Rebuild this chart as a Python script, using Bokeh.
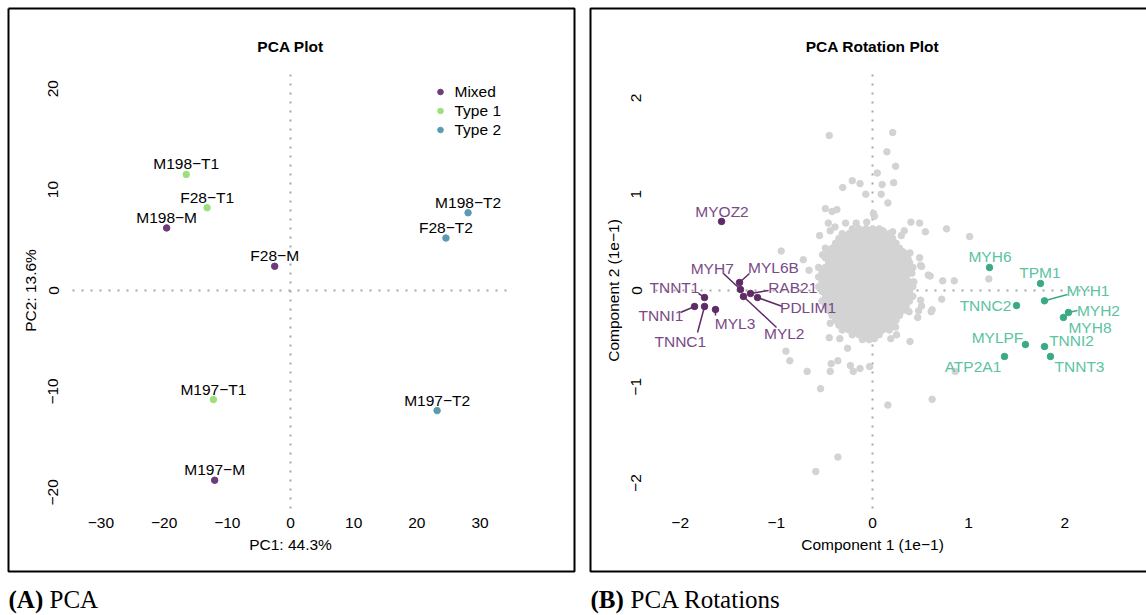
from bokeh.plotting import figure
from bokeh.models import Range1d, LinearAxis, FixedTicker, Label, Legend, LegendItem
from bokeh.layouts import row
from bokeh.embed import file_html
from bokeh.resources import INLINE
from bokeh.core.properties import value

SANS = "Liberation Sans"
SERIF = "Liberation Serif"
FS = "15.5px"

# ---------------- Panel A : PCA ----------------
pca_samples = ["M198\u2212T1", "F28\u2212T1", "M198\u2212M", "F28\u2212M", "M198\u2212T2",
               "F28\u2212T2", "M197\u2212T1", "M197\u2212T2", "M197\u2212M"]
pca_group = ["Type 1", "Type 1", "Mixed", "Mixed", "Type 2", "Type 2", "Type 1", "Type 2", "Mixed"]
pca_pc1 = [-16.5, -13.2, -19.6, -2.5, 28.1, 24.6, -12.2, 23.2, -12.0]
pca_pc2 = [11.5, 8.2, 6.2, 2.4, 7.7, 5.2, -10.8, -11.9, -18.8]
group_names = ["Mixed", "Type 1", "Type 2"]
group_colors = ["#6D3B79", "#9BE07A", "#5B9BB0"]
pca_xticks = [-30, -20, -10, 0, 10, 20, 30]
pca_yticks = [-20, -10, 0, 10, 20]
pca_xlim = (-34.5, 34.5)
pca_ylim = (-21.6, 21.6)

# ---------------- Panel B : PCA rotations ----------------
# scattered genes
gray_out_x = [
    -0.45, 0.21, 0.15, 0.24, 0.05, -0.21, -0.13, 0.10, 0.22, -0.31,
    -0.07, 0.09, 0.16, -0.49, -0.37, -0.42, 0.01, 0.02, 0.40, 0.49,
    0.77, 1.01, 0.55, 0.33, 0.30, 0.21, 0.11, -0.06, -0.17, -0.28,
    -0.46, -0.44, -0.55, -0.39, -0.95, -0.72, -0.52, -0.42, -0.66, 0.32,
    0.39, 0.49, 0.51, 0.60, 0.73, 0.85, 1.21, 0.37, 0.41, 0.43,
    0.58, 0.50, 0.72, 0.62, 0.50, 0.48,
    0.86, 0.62, 0.16, -0.36, -0.59, -0.54, -0.68, -0.86, -0.90, -0.44,
    -0.43, -0.36, -0.23, -0.20, -0.13, -0.03, -0.26, -0.45, -0.34, 0.02,
    0.19, 0.25, 0.39, 0.47, 0.38, 0.61, 0.51, 0.24, 0.06, -0.44,
    -0.30, -0.16,
]
gray_out_y = [
    1.61, 1.64, 1.44, 1.29, 1.22, 1.14, 1.11, 1.10, 1.12, 1.07,
    1.00, 1.00, 0.91, 0.85, 0.84, 0.82, 0.80, 0.77, 0.71, 0.70,
    0.64, 0.56, 0.61, 0.62, 0.57, 0.61, 0.62, 0.71, 0.70, 0.70,
    0.70, 0.62, 0.57, 0.66, 0.41, 0.32, 0.37, 0.37, 0.21, 0.40,
    0.39, 0.34, 0.25, 0.15, 0.10, 0.10, 0.12, 0.33, 0.18, 0.09,
    0.16, 0.26, -0.09, -0.20, -0.10, -0.21,
    -0.84, -1.13, -1.19, -1.73, -1.88, -1.02, -0.84, -0.73, -0.63, -0.84,
    -0.76, -0.73, -0.78, -0.84, -0.81, -0.79, -0.60, -0.49, -0.50, -0.50,
    -0.50, -0.46, -0.53, -0.28, -0.22, -0.22, -0.16, -0.38, -0.38, -0.34,
    -0.39, -0.42,
]
# dense core of genes near the origin
gray_core_x = [
    -0.21, -0.14, -0.07, 0.00, 0.07,
    -0.315, -0.245, -0.175, -0.105, -0.035, 0.035, 0.105, 0.175,
    -0.35, -0.28, -0.21, -0.14, -0.07, 0.00, 0.07, 0.14, 0.21,
    -0.385, -0.315, -0.245, -0.175, -0.105, -0.035, 0.035, 0.105, 0.175, 0.245,
    -0.49, -0.42, -0.35, -0.28, -0.21, -0.14, -0.07, 0.00, 0.07, 0.14, 0.21, 0.28,
    -0.455, -0.385, -0.315, -0.245, -0.175, -0.105, -0.035, 0.035, 0.105, 0.175, 0.245, 0.315,
    -0.49, -0.42, -0.35, -0.28, -0.21, -0.14, -0.07, 0.00, 0.07, 0.14, 0.21, 0.28, 0.35,
    -0.455, -0.385, -0.315, -0.245, -0.175, -0.105, -0.035, 0.035, 0.105, 0.175, 0.245, 0.315, 0.385,
    -0.56, -0.49, -0.42, -0.35, -0.28, -0.21, -0.14, -0.07, 0.00, 0.07, 0.14, 0.21, 0.28, 0.35, 0.42,
    -0.525, -0.455, -0.385, -0.315, -0.245, -0.175, -0.105, -0.035, 0.035, 0.105, 0.175, 0.245, 0.315, 0.385,
    -0.56, -0.49, -0.42, -0.35, -0.28, -0.21, -0.14, -0.07, 0.00, 0.07, 0.14, 0.21, 0.28, 0.35,
    -0.525, -0.455, -0.385, -0.315, -0.245, -0.175, -0.105, -0.035, 0.035, 0.105, 0.175, 0.245, 0.315, 0.385,
    -0.56, -0.49, -0.42, -0.35, -0.28, -0.21, -0.14, -0.07, 0.00, 0.07, 0.14, 0.21, 0.28, 0.35, 0.42,
    -0.525, -0.455, -0.385, -0.315, -0.245, -0.175, -0.105, -0.035, 0.035, 0.105, 0.175, 0.245, 0.315, 0.385,
    -0.49, -0.42, -0.35, -0.28, -0.21, -0.14, -0.07, 0.00, 0.07, 0.14, 0.21, 0.28, 0.35, 0.42,
    -0.525, -0.455, -0.385, -0.315, -0.245, -0.175, -0.105, -0.035, 0.035, 0.105, 0.175, 0.245, 0.315, 0.385,
    -0.49, -0.42, -0.35, -0.28, -0.21, -0.14, -0.07, 0.00, 0.07, 0.14, 0.21, 0.28, 0.35,
    -0.455, -0.385, -0.315, -0.245, -0.175, -0.105, -0.035, 0.035, 0.105, 0.175, 0.245, 0.315,
    -0.42, -0.35, -0.28, -0.21, -0.14, -0.07, 0.00, 0.07, 0.14, 0.21, 0.28,
    -0.385, -0.315, -0.245, -0.175, -0.105, -0.035, 0.035, 0.105, 0.175, 0.245,
    -0.35, -0.28, -0.21, -0.14, -0.07, 0.00, 0.07, 0.14, 0.21,
    -0.315, -0.245, -0.175, -0.105, -0.035, 0.035, 0.105, 0.175,
    -0.21, -0.14, -0.07, 0.00, 0.07,
    -0.105, -0.035,
]
gray_core_y = [
    0.64, 0.64, 0.64, 0.64, 0.64,
    0.59, 0.59, 0.59, 0.59, 0.59, 0.59, 0.59, 0.59,
    0.54, 0.54, 0.54, 0.54, 0.54, 0.54, 0.54, 0.54, 0.54,
    0.49, 0.49, 0.49, 0.49, 0.49, 0.49, 0.49, 0.49, 0.49, 0.49,
    0.44, 0.44, 0.44, 0.44, 0.44, 0.44, 0.44, 0.44, 0.44, 0.44, 0.44, 0.44,
    0.39, 0.39, 0.39, 0.39, 0.39, 0.39, 0.39, 0.39, 0.39, 0.39, 0.39, 0.39,
    0.34, 0.34, 0.34, 0.34, 0.34, 0.34, 0.34, 0.34, 0.34, 0.34, 0.34, 0.34, 0.34,
    0.29, 0.29, 0.29, 0.29, 0.29, 0.29, 0.29, 0.29, 0.29, 0.29, 0.29, 0.29, 0.29,
    0.24, 0.24, 0.24, 0.24, 0.24, 0.24, 0.24, 0.24, 0.24, 0.24, 0.24, 0.24, 0.24, 0.24, 0.24,
    0.19, 0.19, 0.19, 0.19, 0.19, 0.19, 0.19, 0.19, 0.19, 0.19, 0.19, 0.19, 0.19, 0.19,
    0.14, 0.14, 0.14, 0.14, 0.14, 0.14, 0.14, 0.14, 0.14, 0.14, 0.14, 0.14, 0.14, 0.14,
    0.09, 0.09, 0.09, 0.09, 0.09, 0.09, 0.09, 0.09, 0.09, 0.09, 0.09, 0.09, 0.09, 0.09,
    0.04, 0.04, 0.04, 0.04, 0.04, 0.04, 0.04, 0.04, 0.04, 0.04, 0.04, 0.04, 0.04, 0.04, 0.04,
    -0.01, -0.01, -0.01, -0.01, -0.01, -0.01, -0.01, -0.01, -0.01, -0.01, -0.01, -0.01, -0.01, -0.01,
    -0.06, -0.06, -0.06, -0.06, -0.06, -0.06, -0.06, -0.06, -0.06, -0.06, -0.06, -0.06, -0.06, -0.06,
    -0.11, -0.11, -0.11, -0.11, -0.11, -0.11, -0.11, -0.11, -0.11, -0.11, -0.11, -0.11, -0.11, -0.11,
    -0.16, -0.16, -0.16, -0.16, -0.16, -0.16, -0.16, -0.16, -0.16, -0.16, -0.16, -0.16, -0.16,
    -0.21, -0.21, -0.21, -0.21, -0.21, -0.21, -0.21, -0.21, -0.21, -0.21, -0.21, -0.21,
    -0.26, -0.26, -0.26, -0.26, -0.26, -0.26, -0.26, -0.26, -0.26, -0.26, -0.26,
    -0.31, -0.31, -0.31, -0.31, -0.31, -0.31, -0.31, -0.31, -0.31, -0.31,
    -0.36, -0.36, -0.36, -0.36, -0.36, -0.36, -0.36, -0.36, -0.36,
    -0.41, -0.41, -0.41, -0.41, -0.41, -0.41, -0.41, -0.41,
    -0.46, -0.46, -0.46, -0.46, -0.46,
    -0.51, -0.51,
]

mixed_genes = ["MYOZ2", "MYL6B", "MYH7", "RAB21", "MYL2", "PDLIM1", "TNNT1", "TNNI1", "TNNC1", "MYL3"]
mixed_x = [-1.57, -1.383, -1.373, -1.269, -1.342, -1.196, -1.747, -1.851, -1.747, -1.633]
mixed_y = [0.717, 0.083, 0.010, -0.031, -0.062, -0.073, -0.073, -0.166, -0.166, -0.197]
mixed_lab_x = [-1.565, -1.03, -1.667, -0.83, -0.918, -0.67, -2.06, -2.20, -1.999, -1.43]
mixed_lab_y = [0.823, 0.235, 0.225, 0.028, -0.443, -0.177, 0.034, -0.26, -0.526, -0.346]
mixed_seg_x = [None, -1.28, -1.55, -1.08, -0.998, -0.936, -1.81, -1.997, -1.82, -1.633]
mixed_seg_y = [None, 0.177, 0.177, 0.0, -0.384, -0.166, -0.031, -0.228, -0.436, -0.26]

type2_genes = ["MYH6", "TPM1", "MYH1", "TNNC2", "MYH2", "MYH8", "MYLPF", "TNNI2", "ATP2A1", "TNNT3"]
type2_x = [1.217, 1.747, 1.789, 1.498, 2.038, 1.986, 1.591, 1.789, 1.373, 1.851]
type2_y = [0.239, 0.073, -0.107, -0.156, -0.228, -0.280, -0.561, -0.582, -0.685, -0.685]
type2_lab_x = [1.222, 1.742, 2.241, 1.175, 2.35, 2.262, 1.30, 2.07, 1.045, 2.153]
type2_lab_y = [0.353, 0.184, 0.0, -0.153, -0.211, -0.381, -0.485, -0.519, -0.789, -0.789]
type2_seg_x = [None, None, 2.028, None, 2.132, None, None, None, None, None]
type2_seg_y = [None, None, -0.042, None, -0.208, None, None, None, None, None]

rot_xticks = [-2, -1, 0, 1, 2]
rot_yticks = [-2, -1, 0, 1, 2]
rot_xlim = (-2.257, 2.257)
rot_ylim = (-2.264, 2.264)

# ---------------- layout geometry (pixels, canvas-local) ----------------
H = 615
BOX_T, BOX_B = 8, 571
REG_T, REG_B = 72, 508


def make_panel(width, reg_l, reg_r, xlim, ylim):
    # the frame covers the whole canvas; data limits map onto the plot region
    kx = (reg_r - reg_l) / (xlim[1] - xlim[0])
    ky = (REG_B - REG_T) / (ylim[1] - ylim[0])
    xr = Range1d(xlim[0] - reg_l / kx, xlim[1] + (width - reg_r) / kx)
    yr = Range1d(ylim[0] - (H - REG_B) / ky, ylim[1] + REG_T / ky)
    p = figure(width=width, height=H, x_range=xr, y_range=yr, output_backend="svg",
               toolbar_location=None, x_axis_location=None, y_axis_location=None, title=None,
               min_border_left=0, min_border_right=0, min_border_top=0, min_border_bottom=0)
    p.grid.visible = False
    p.background_fill_color = "white"
    p.border_fill_color = "white"
    p.outline_line_color = None

    def X(px):
        return xlim[0] + (px - reg_l) / kx

    def Y(py):
        return ylim[1] - (py - REG_T) / ky

    return p, X, Y


def fmt(t):
    return str(t).replace("-", "\u2212")


def add_axes(p, xticks, yticks, xlim, ylim, xlabel, ylabel):
    common = dict(axis_line_color=None, major_tick_line_color=None, minor_tick_line_color=None,
                  major_tick_in=0, major_tick_out=0,
                  major_label_text_font=SANS, major_label_text_font_size=FS,
                  major_label_text_color="black",
                  axis_label_text_font=SANS, axis_label_text_font_size=FS,
                  axis_label_text_font_style="normal", axis_label_text_color="black")
    xa = LinearAxis(fixed_location=ylim[0], bounds=xlim, ticker=FixedTicker(ticks=xticks),
                    major_label_overrides={t: fmt(t) for t in xticks}, axis_label=xlabel,
                    major_label_standoff=9, axis_label_standoff=5, **common)
    p.add_layout(xa, "below")
    ya = LinearAxis(fixed_location=xlim[0], bounds=ylim, ticker=FixedTicker(ticks=yticks),
                    major_label_overrides={t: fmt(t) for t in yticks}, axis_label=ylabel,
                    major_label_orientation="vertical",
                    major_label_standoff=14, axis_label_standoff=7, **common)
    p.add_layout(ya, "left")


def add_zero_lines(p, xlim, ylim):
    p.segment(x0=[xlim[0], 0], y0=[0, ylim[0]], x1=[xlim[1], 0], y1=[0, ylim[1]],
              line_color="#a6a6a6", line_width=2, line_dash="2 7")


def add_caption(p, X, Y, x0, bold, rest, gap):
    p.add_layout(Label(x=X(x0), y=Y(599), text=bold, text_font=SERIF, text_font_size="25px",
                       text_font_style="bold", text_align="left", text_baseline="middle",
                       text_color="black"))
    p.add_layout(Label(x=X(x0 + gap), y=Y(599), text=rest, text_font=SERIF, text_font_size="25px",
                       text_align="left", text_baseline="middle", text_color="black"))


def add_title(p, X, Y, text):
    p.add_layout(Label(x=X(290), y=Y(46), text=text, text_font=SANS, text_font_size=FS,
                       text_font_style="bold", text_align="center", text_baseline="middle",
                       text_color="black"))


# ---------------- Panel A ----------------
WA = 582
pA, XA, YA = make_panel(WA, 72, 508, pca_xlim, pca_ylim)
pA.line([XA(8), XA(574), XA(574), XA(8), XA(8)], [YA(BOX_T), YA(BOX_T), YA(BOX_B), YA(BOX_B), YA(BOX_T)],
        line_color="black", line_width=2)
add_zero_lines(pA, pca_xlim, pca_ylim)
add_axes(pA, pca_xticks, pca_yticks, pca_xlim, pca_ylim, "PC1: 44.3%", "PC2: 13.6%")
add_title(pA, XA, YA, "PCA Plot")

items = []
for g, c in zip(group_names, group_colors):
    xs = [x for x, gg in zip(pca_pc1, pca_group) if gg == g]
    ys = [y for y, gg in zip(pca_pc2, pca_group) if gg == g]
    r = pA.scatter(xs, ys, size=6.5, fill_color=c, line_color=c)
    items.append(LegendItem(label=g, renderers=[r]))

pA.text(x=pca_pc1, y=pca_pc2, text=pca_samples, text_font=value(SANS), text_font_size=value(FS),
        text_align="center", text_baseline="middle", y_offset=-10.5, text_color="black")

leg = Legend(items=items, location=(432.5, H - 139.2), orientation="vertical",
             border_line_color=None, background_fill_alpha=0, padding=0, margin=0, spacing=0,
             glyph_width=14, glyph_height=19, label_height=19, label_standoff=8,
             label_text_font=SANS, label_text_font_size=FS, label_text_color="black")
pA.add_layout(leg)
add_caption(pA, XA, YA, 8, "(A)", "PCA", 41)

# ---------------- Panel B ----------------
WB = 1146 - WA
pB, XB, YB = make_panel(WB, 73, 507, rot_xlim, rot_ylim)
# panel border (left, top, bottom; its right side lies outside the window)
pB.line([XB(WB + 10), XB(8), XB(8), XB(WB + 10)], [YB(BOX_T), YB(BOX_T), YB(BOX_B), YB(BOX_B)],
        line_color="black", line_width=2)

add_zero_lines(pB, rot_xlim, rot_ylim)
add_axes(pB, rot_xticks, rot_yticks, rot_xlim, rot_ylim,
         "Component 1 (1e\u22121)", "Component 2 (1e\u22121)")
add_title(pB, XB, YB, "PCA Rotation Plot")

pB.scatter(gray_out_x, gray_out_y, size=6.5, fill_color="#D3D3D3", line_color="#D3D3D3")
pB.scatter(gray_core_x, gray_core_y, size=6.5, fill_color="#D3D3D3", line_color="#D3D3D3")

MIX_PT, MIX_TXT = "#5E2B66", "#7A4A86"
T2_PT, T2_TXT = "#3AAA86", "#5BC3A2"

for genes, gx, gy, lx, ly, sx, sy, cpt, ctxt in [
        (mixed_genes, mixed_x, mixed_y, mixed_lab_x, mixed_lab_y, mixed_seg_x, mixed_seg_y, MIX_PT, MIX_TXT),
        (type2_genes, type2_x, type2_y, type2_lab_x, type2_lab_y, type2_seg_x, type2_seg_y, T2_PT, T2_TXT)]:
    s0x = [a for a in sx if a is not None]
    s0y = [b for a, b in zip(sx, sy) if a is not None]
    s1x = [px for a, px in zip(sx, gx) if a is not None]
    s1y = [py for a, py in zip(sx, gy) if a is not None]
    pB.segment(x0=s0x, y0=s0y, x1=s1x, y1=s1y, line_color=cpt, line_width=1.5)
    pB.scatter(gx, gy, size=6.5, fill_color=cpt, line_color=cpt)
    pB.text(x=lx, y=ly, text=genes, text_font=value(SANS), text_font_size=value(FS),
            text_align="center", text_baseline="middle", text_color=ctxt)

add_caption(pB, XB, YB, 8, "(B)", "PCA Rotations", 40)

layout = row(pA, pB, spacing=0)
open("out.html", "w").write(file_html(layout, INLINE))
